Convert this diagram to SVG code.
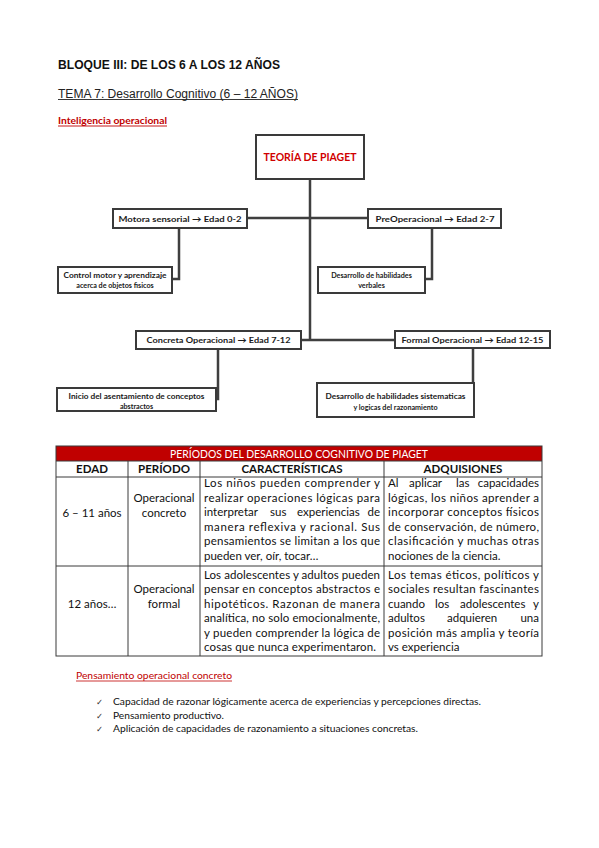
<svg xmlns="http://www.w3.org/2000/svg" width="599" height="848" viewBox="0 0 599 848">
<style>
.bg{fill:#ffffff}
.box{fill:#ffffff;stroke:#3a3a3a;stroke-width:2}
.con{fill:none;stroke:#3f3f3f;stroke-width:2.5}
.nt{font-family:Lato,"Open Sans",sans-serif;font-weight:bold;font-size:8px;fill:#1a1a1a;text-anchor:middle}
.ns{font-family:Lato,"Open Sans",sans-serif;font-weight:bold;font-size:7.2px;fill:#1a1a1a;text-anchor:middle}
.tb{font-family:Lato,"Open Sans",sans-serif;font-size:11.5px;fill:#111}
.tbe{font-family:Lato,"Open Sans",sans-serif;font-size:11.5px;fill:#111;text-anchor:end}
.tbc{font-family:Lato,"Open Sans",sans-serif;font-size:11.5px;fill:#111;text-anchor:middle}
.th{font-family:Lato,"Open Sans",sans-serif;font-size:11.5px;font-weight:bold;fill:#111;text-anchor:middle}
.grid{stroke:#3a3a3a;stroke-width:1;fill:none}
.bl{font-family:Lato,"Open Sans",sans-serif;font-size:9.3px;fill:#111}
.ck{font-family:"DejaVu Sans",sans-serif;font-size:8.5px;fill:#333}
</style>
<rect class="bg" x="0" y="0" width="599" height="848"/>

<!-- headings -->
<text x="58" y="68.5" font-family="'Liberation Sans',Arial,sans-serif" font-weight="bold" font-size="12.3" fill="#111" textLength="222" lengthAdjust="spacingAndGlyphs">BLOQUE III: DE LOS 6 A LOS 12 AÑOS</text>
<text x="58" y="97.5" font-family="'Liberation Sans',Arial,sans-serif" font-size="12.3" fill="#222" textLength="240" lengthAdjust="spacingAndGlyphs">TEMA 7: Desarrollo Cognitivo (6 – 12 AÑOS)</text>
<line x1="58" y1="99.5" x2="298" y2="99.5" stroke="#222" stroke-width="0.9"/>
<text x="58" y="124" font-family="Lato,'Open Sans',sans-serif" font-weight="bold" font-size="10" fill="#c00000" textLength="109" lengthAdjust="spacingAndGlyphs">Inteligencia operacional</text>
<line x1="58" y1="126" x2="167" y2="126" stroke="#c00000" stroke-width="0.9"/>

<!-- connectors -->
<g id="connectors">
<path class="con" d="M310,179 V340"/>
<path class="con" d="M247,218 H368"/>
<path class="con" d="M301,340 H394"/>
<path class="con" d="M179,228 V279 H172"/>
<path class="con" d="M432,228 V279 H425"/>
<path class="con" d="M218,349 V399 H216"/>
<path class="con" d="M473,348 V400 H474"/>
</g>

<g id="teoria">
<rect class="box" x="256" y="135" width="108" height="44"/>
<text x="310" y="161" font-family="Lato,'Open Sans',sans-serif" font-weight="bold" font-size="11.5" fill="#d00000" text-anchor="middle" textLength="93" lengthAdjust="spacingAndGlyphs">TEORÍA DE PIAGET</text>
</g>

<g id="motora">
<rect class="box" x="113" y="209" width="134" height="19"/>
<text class="nt" x="180" y="221.5" textLength="123" lengthAdjust="spacingAndGlyphs">Motora sensorial → Edad 0-2</text>
</g>

<g id="preoperacional">
<rect class="box" x="368" y="209" width="133" height="19"/>
<text class="nt" x="435" y="221.5" textLength="119" lengthAdjust="spacingAndGlyphs">PreOperacional → Edad 2-7</text>
</g>

<g id="control-motor">
<rect class="box" x="58" y="267" width="114" height="26"/>
<text class="ns" x="115" y="277.5" textLength="103" lengthAdjust="spacingAndGlyphs">Control motor y aprendizaje</text>
<text class="ns" x="115" y="287.5">acerca de objetos fisicos</text>
</g>

<g id="habilidades-verbales">
<rect class="box" x="318" y="267" width="107" height="26"/>
<text class="ns" x="371.5" y="277.5">Desarrollo de habilidades</text>
<text class="ns" x="371.5" y="287.5">verbales</text>
</g>

<g id="concreta">
<rect class="box" x="136" y="331" width="165" height="18"/>
<text class="nt" x="218.5" y="343" textLength="144" lengthAdjust="spacingAndGlyphs">Concreta Operacional → Edad 7-12</text>
</g>

<g id="formal">
<rect class="box" x="395" y="331" width="155" height="17"/>
<text class="nt" x="472.5" y="342.5" textLength="142" lengthAdjust="spacingAndGlyphs">Formal Operacional → Edad 12-15</text>
</g>

<g id="inicio">
<rect class="box" x="57" y="388" width="159" height="23"/>
<text class="ns" x="136.5" y="398.5" textLength="136" lengthAdjust="spacingAndGlyphs">Inicio del asentamiento de conceptos</text>
<text class="ns" x="136.5" y="408.5">abstractos</text>
</g>

<g id="sistematicas">
<rect class="box" x="317" y="383" width="157" height="34"/>
<text class="ns" x="395.5" y="398.5" textLength="140" lengthAdjust="spacingAndGlyphs">Desarrollo de habilidades sistematicas</text>
<text class="ns" x="395.5" y="409.5">y logicas del razonamiento</text>
</g>

<!-- table -->
<g id="tabla">
<rect x="56" y="446" width="486" height="15" fill="#c00000"/>
<text x="299" y="458" font-family="Lato,'Open Sans',sans-serif" font-size="11.5" fill="#ffffff" text-anchor="middle" textLength="258" lengthAdjust="spacingAndGlyphs">PERÍODOS DEL DESARROLLO COGNITIVO DE PIAGET</text>
<rect class="grid" x="56" y="446" width="486" height="210" stroke-width="1.5"/>
<line class="grid" x1="56" y1="461" x2="542" y2="461"/>
<line class="grid" x1="56" y1="477" x2="542" y2="477"/>
<line class="grid" x1="56" y1="566" x2="542" y2="566"/>
<line class="grid" x1="128" y1="461" x2="128" y2="656"/>
<line class="grid" x1="200" y1="461" x2="200" y2="656"/>
<line class="grid" x1="384" y1="461" x2="384" y2="656"/>

<text class="th" x="92" y="473">EDAD</text>
<text class="th" x="164" y="473">PERÍODO</text>
<text class="th" x="292" y="473">CARACTERÍSTICAS</text>
<text class="th" x="463" y="473">ADQUISIONES</text>

<text class="tbc" x="92" y="517">6 – 11 años</text>
<text class="tbc" x="164" y="502">Operacional</text>
<text class="tbc" x="164" y="517">concreto</text>

<text class="tb" x="204" y="487" textLength="176" lengthAdjust="spacing">Los niños pueden comprender y</text>
<text class="tb" x="204" y="502" textLength="176" lengthAdjust="spacing">realizar operaciones lógicas para</text>
<text class="tb" x="204" y="516">interpretar</text>
<text class="tb" x="270" y="516">sus</text>
<text class="tb" x="297" y="516">experiencias</text>
<text class="tbe" x="380" y="516">de</text>
<text class="tb" x="204" y="531" textLength="176" lengthAdjust="spacing">manera reflexiva y racional. Sus</text>
<text class="tb" x="204" y="545" textLength="176" lengthAdjust="spacing">pensamientos se limitan a los que</text>
<text class="tb" x="204" y="560">pueden ver, oír, tocar…</text>

<text class="tb" x="388" y="487">Al</text>
<text class="tb" x="409" y="487">aplicar</text>
<text class="tb" x="456" y="487">las</text>
<text class="tbe" x="539" y="487">capacidades</text>
<text class="tb" x="388" y="502" textLength="151" lengthAdjust="spacing">lógicas, los niños aprender a</text>
<text class="tb" x="388" y="516" textLength="151" lengthAdjust="spacing">incorporar conceptos físicos</text>
<text class="tb" x="388" y="531" textLength="151" lengthAdjust="spacing">de conservación, de número,</text>
<text class="tb" x="388" y="545" textLength="151" lengthAdjust="spacing">clasificación y muchas otras</text>
<text class="tb" x="388" y="560">nociones de la ciencia.</text>

<text class="tbc" x="92" y="608">12 años…</text>
<text class="tbc" x="164" y="593">Operacional</text>
<text class="tbc" x="164" y="608">formal</text>

<text class="tb" x="204" y="579" textLength="176" lengthAdjust="spacing">Los adolescentes y adultos pueden</text>
<text class="tb" x="204" y="593" textLength="176" lengthAdjust="spacing">pensar en conceptos abstractos e</text>
<text class="tb" x="204" y="608" textLength="176" lengthAdjust="spacing">hipotéticos. Razonan de manera</text>
<text class="tb" x="204" y="622" textLength="176" lengthAdjust="spacing">analítica, no solo emocionalmente,</text>
<text class="tb" x="204" y="637" textLength="176" lengthAdjust="spacing">y pueden comprender la lógica de</text>
<text class="tb" x="204" y="651" textLength="172" lengthAdjust="spacing">cosas que nunca experimentaron.</text>

<text class="tb" x="388" y="579" textLength="151" lengthAdjust="spacing">Los temas éticos, políticos y</text>
<text class="tb" x="388" y="593" textLength="151" lengthAdjust="spacing">sociales resultan fascinantes</text>
<text class="tb" x="388" y="608">cuando</text>
<text class="tb" x="435" y="608">los</text>
<text class="tb" x="460" y="608">adolescentes</text>
<text class="tbe" x="539" y="608">y</text>
<text class="tb" x="388" y="622">adultos</text>
<text class="tb" x="447" y="622">adquieren</text>
<text class="tbe" x="539" y="622">una</text>
<text class="tb" x="388" y="637" textLength="151" lengthAdjust="spacing">posición más amplia y teoría</text>
<text class="tb" x="388" y="651">vs experiencia</text>
</g>

<!-- bottom section -->
<text x="76" y="679" font-family="Lato,'Open Sans',sans-serif" font-size="9.5" fill="#c00000" textLength="156" lengthAdjust="spacingAndGlyphs">Pensamiento operacional concreto</text>
<line x1="76" y1="681" x2="232" y2="681" stroke="#c00000" stroke-width="0.8"/>

<text class="ck" x="96" y="705">✓</text>
<text class="bl" x="113" y="705" textLength="368" lengthAdjust="spacingAndGlyphs">Capacidad de razonar lógicamente acerca de experiencias y percepciones directas.</text>
<text class="ck" x="96" y="719">✓</text>
<text class="bl" x="113" y="719" textLength="111" lengthAdjust="spacingAndGlyphs">Pensamiento productivo.</text>
<text class="ck" x="96" y="732">✓</text>
<text class="bl" x="113" y="732" textLength="305" lengthAdjust="spacingAndGlyphs">Aplicación de capacidades de razonamiento a situaciones concretas.</text>
</svg>
